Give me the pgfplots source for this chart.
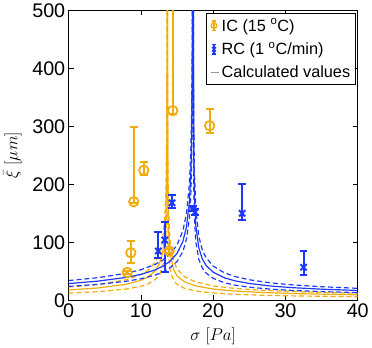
\documentclass[border=0pt]{standalone}
\usepackage{pgfplots}
\pgfplotsset{compat=1.18}
\usepackage{fontspec}
\setmainfont{Liberation Sans}
\definecolor{icorange}{RGB}{240,172,10}
\definecolor{rcblue}{RGB}{28,56,252}
\definecolor{calcgray}{RGB}{140,152,160}
\begin{document}
\begin{tikzpicture}
\begin{axis}[
  scale only axis,
  width=292bp, height=293bp,
  xmin=0, xmax=40, ymin=0, ymax=500,
  xtick={0,10,20,30,40}, ytick={0,100,200,300,400,500},
  tick align=inside, tick pos=both,
  major tick length=5bp,
  axis line style={line width=1.2pt},
  tick style={line width=0.9pt, black},
  /pgf/number format/assume math mode=true,
  ticklabel style={font=\fontsize{20}{23}\selectfont},
  xlabel={$\sigma\ [Pa]$},
  ylabel={$\bar{\xi}\ [\mu m]$},
  label style={font=\fontsize{18.5}{21}\selectfont},
  xlabel style={yshift=-3bp},
  ylabel style={yshift=4bp},
  legend style={at={(0.993,0.99)}, anchor=north east,
    font=\fontsize{16.5}{18}\selectfont, draw=black, line width=1.2pt,
    row sep=6bp, inner xsep=3bp, inner ysep=3bp},
  legend cell align=left,
]
% calculated values, IC (orange)
\addplot[icorange, line width=1.2pt, forget plot] coordinates {
  (0,17.9) (4,21.2) (8,27.8) (10,34.6) (11,40.5) (12,51.4) (12.6,64.4) (13,81.9)
  (13.3,111.5) (13.45,147.6) (13.55,208.8) (13.6,295) (13.63,467) (13.645,933)
  (13.652,1096) (13.7,219) (13.8,126.6) (14,82.8) (14.5,53.1) (15,42.2) (16,32.0)
  (17.5,25.0) (20,19.4) (23,16.0) (27,13.4) (32,11.4) (36,10.4) (40,9.5)
};
\addplot[icorange, line width=1.2pt, dash pattern=on 5bp off 3bp, forget plot] coordinates {
  (0,22.9) (4,27.1) (8,35.6) (10,44.3) (11,51.8) (12,65.8) (12.6,82.4) (13,104.8)
  (13.3,142.7) (13.45,188.9) (13.55,267) (13.6,378) (13.63,598) (13.645,1194)
  (13.652,1403) (13.7,280) (13.8,162) (14,106) (14.5,68.0) (15,54.0) (16,41.0)
  (17.5,32.0) (20,24.8) (23,20.5) (27,17.2) (32,14.6) (36,13.3) (40,12.2)
};
\addplot[icorange, line width=1.2pt, dash pattern=on 5bp off 3bp, forget plot] coordinates {
  (0,12.5) (4,14.8) (8,19.5) (10,24.2) (11,28.4) (12,36.0) (12.6,45.1) (13,57.3)
  (13.3,78.1) (13.45,103.3) (13.55,146.2) (13.6,206.5) (13.63,327) (13.645,653)
  (13.652,712) (13.7,142) (13.8,82.3) (14,53.8) (14.5,34.5) (15,27.4) (16,20.8)
  (17.5,16.3) (20,12.6) (23,10.4) (27,8.7) (32,7.4) (36,6.8) (40,6.2)
};
% calculated values, RC (blue)
\addplot[rcblue, line width=1.2pt, forget plot] coordinates {
  (0,28.9) (4,33.0) (8,39.6) (10,44.7) (12,52.6) (13,58.6) (14,67.1) (15,80.9)
  (15.8,101.4) (16.3,126.5) (16.7,169.7) (16.9,219) (17.0,268) (17.1,379) (17.17,693)
  (17.21,810) (17.3,256) (17.4,181) (17.6,128) (18,90.6) (18.5,71.1) (19,60.4)
  (20,48.4) (21.5,39.1) (23,33.6) (25,29.0) (28,24.6) (31,21.8) (35,19.2) (40,17.0)
};
\addplot[rcblue, line width=1.2pt, dash pattern=on 5bp off 3bp, forget plot] coordinates {
  (0,34.1) (4,38.9) (8,46.7) (10,52.7) (12,62.1) (13,69.1) (14,79.2) (15,95.5)
  (15.8,119.7) (16.3,149.3) (16.7,200.2) (16.9,258) (17.0,316) (17.1,447) (17.17,818)
  (17.21,988) (17.3,312) (17.4,221) (17.6,156) (18,110.5) (18.5,86.7) (19,73.7)
  (20,59.0) (21.5,47.7) (23,41.0) (25,35.4) (28,30.0) (31,26.6) (35,23.4) (40,20.7)
};
\addplot[rcblue, line width=1.2pt, dash pattern=on 5bp off 3bp, forget plot] coordinates {
  (0,24.0) (4,27.4) (8,32.9) (10,37.1) (12,43.7) (13,48.6) (14,55.7) (15,67.1)
  (15.8,84.2) (16.3,105.0) (16.7,140.9) (16.9,182) (17.0,222) (17.1,315) (17.17,575)
  (17.21,632) (17.3,200) (17.4,141) (17.6,99.8) (18,70.7) (18.5,55.5) (19,47.1)
  (20,37.8) (21.5,30.5) (23,26.2) (25,22.6) (28,19.2) (31,17.0) (35,15.0) (40,13.3)
};
% measurements, IC (15 C)
\addplot[icorange, only marks, mark=o, mark size=4.8pt, line width=1.8pt,
  legend image code/.code={
    \draw[icorange, line width=1.4pt] (0.12cm,-0.17cm) -- (0.12cm,0.17cm)
      (0.04cm,-0.17cm) -- (0.2cm,-0.17cm) (0.04cm,0.17cm) -- (0.2cm,0.17cm);
    \draw[icorange, line width=1.4pt] (0.12cm,0cm) circle (0.1cm);
  },
  error bars/.cd, y dir=both, y explicit,
  error bar style={line width=2pt},
  error mark options={rotate=90, mark size=4pt, line width=2pt},
  ] coordinates {
  (8.1,48) +- (0,3)
  (8.6,82) += (0,20) -= (0,17)
  (9.0,170) += (0,128) -= (0,3)
  (10.4,224) += (0,15) -= (0,8)
  (13.9,85) +- (0,3)
  (14.4,327) += (0,200) -= (0,6)
  (19.5,301) += (0,28) -= (0,12)
};
\addlegendentry{IC (15 \textsuperscript{o}C)}
% measurements, RC (1 C/min)
\addplot[rcblue, only marks, mark=x, mark size=4.5pt, line width=2pt,
  legend image code/.code={
    \draw[rcblue, line width=1.4pt] (0.12cm,-0.17cm) -- (0.12cm,0.17cm)
      (0.04cm,-0.17cm) -- (0.2cm,-0.17cm) (0.04cm,0.17cm) -- (0.2cm,0.17cm);
    \draw[rcblue, line width=1.4pt] (0.05cm,-0.08cm) -- (0.19cm,0.08cm)
      (0.05cm,0.08cm) -- (0.19cm,-0.08cm);
  },
  error bars/.cd, y dir=both, y explicit,
  error bar style={line width=2pt},
  error mark options={rotate=90, mark size=4pt, line width=2pt},
  ] coordinates {
  (12.4,85) += (0,33) -= (0,12)
  (13.3,104) += (0,31) -= (0,56)
  (14.3,168) += (0,13) -= (0,9)
  (17.2,158) +- (0,4)
  (17.5,152) +- (0,5)
  (24.0,150) += (0,51) -= (0,12)
  (32.5,57) += (0,28) -= (0,13)
};
\addlegendentry{RC (1 \textsuperscript{o}C/min)}
\addlegendimage{legend image code/.code={\draw[calcgray, line width=1.5pt] (0cm,0cm) -- (0.3cm,0cm);}}
\addlegendentry{Calculated values}
\end{axis}
\end{tikzpicture}
\end{document}
